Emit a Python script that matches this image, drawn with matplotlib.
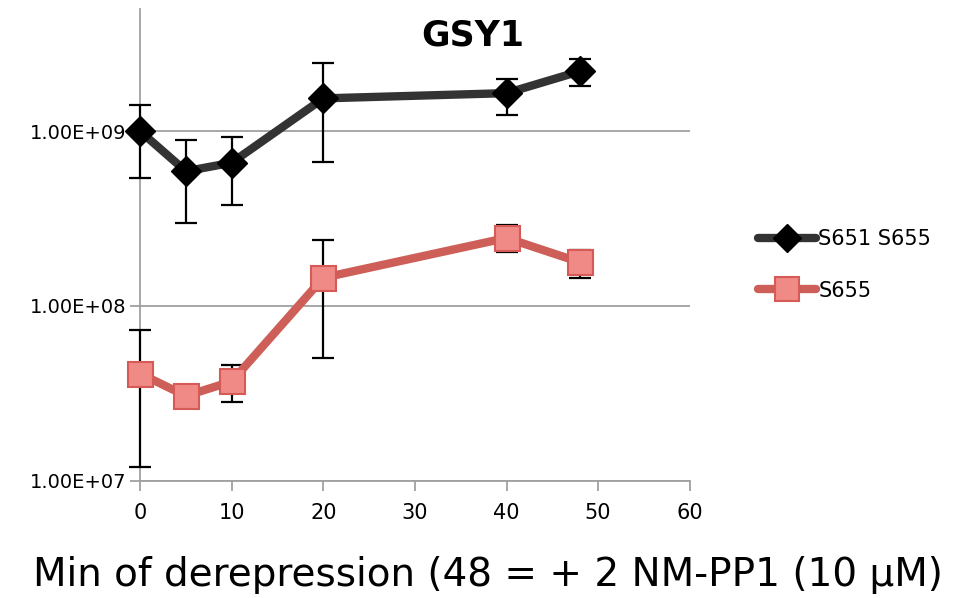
import matplotlib.pyplot as plt
from matplotlib.ticker import FixedLocator, NullLocator

plt.rcParams['font.family'] = ['DejaVu Sans']

# minutes of derepression
minutes = [0, 5, 10, 20, 40, 48]

# S651 S655 (black)
s651_s655 = [1.00e9, 0.59e9, 0.66e9, 1.54e9, 1.65e9, 2.20e9]
s651_s655_hi = [1.41e9, 0.89e9, 0.92e9, 2.45e9, 2.00e9, 2.58e9]
s651_s655_lo = [0.54e9, 0.30e9, 0.38e9, 0.67e9, 1.23e9, 1.81e9]

# S655 (red)
s655 = [4.1e7, 3.06e7, 3.7e7, 1.45e8, 2.45e8, 1.78e8]
s655_hi = [7.3e7, 3.3e7, 4.6e7, 2.38e8, 2.9e8, 2.1e8]
s655_lo = [1.2e7, 2.8e7, 2.83e7, 5.05e7, 2.03e8, 1.45e8]

x_ticks = [0, 10, 20, 30, 40, 50, 60]
y_ticks = [1e7, 1e8, 1e9]
y_labels = ['1.00E+07', '1.00E+08', '1.00E+09']

fig = plt.figure(figsize=(9.66, 5.98), dpi=100)
ax = fig.add_axes([0.145, 0.196, 0.569, 0.789])

def yerr(vals, hi, lo):
    return [[v - l for v, l in zip(vals, lo)], [h - v for v, h in zip(vals, hi)]]

for vals, hi, lo in [(s651_s655, s651_s655_hi, s651_s655_lo), (s655, s655_hi, s655_lo)]:
    eb = ax.errorbar(minutes, vals, yerr=yerr(vals, hi, lo), fmt='none', ecolor='black',
                     elinewidth=1.6, capsize=8, capthick=1.6, zorder=2.6)
    for art in eb.lines[1] + eb.lines[2]:
        art.set_clip_on(False)

ax.plot(minutes, s651_s655, color='#333333', lw=6, marker='D', markersize=15,
        markerfacecolor='black', markeredgecolor='black', zorder=3, clip_on=False,
        solid_capstyle='round', label='S651 S655')
ax.plot(minutes, s655, color='#CD5F58', lw=6, marker='s', markersize=18,
        markerfacecolor='#F08A86', markeredgecolor='#D65A55', markeredgewidth=1.5,
        zorder=3, clip_on=False, solid_capstyle='round', label='S655')

ax.set_yscale('log')
ax.set_ylim(1e7, 5e9)
ax.set_xlim(0, 60)
ax.yaxis.set_major_locator(FixedLocator(y_ticks))
ax.yaxis.set_minor_locator(NullLocator())
ax.set_yticklabels(y_labels, fontsize=14)
ax.set_xticks(x_ticks)
ax.set_xticklabels([str(t) for t in x_ticks], fontsize=15)
ax.grid(axis='y', color='#A0A0A0', lw=1.3)
ax.set_axisbelow(True)
for s in ['top', 'right']:
    ax.spines[s].set_visible(False)
for s in ['left', 'bottom']:
    ax.spines[s].set_color('#A0A0A0')
    ax.spines[s].set_linewidth(1.3)
ax.tick_params(axis='both', direction='out', color='#A0A0A0', width=1.3, length=7)
ax.tick_params(axis='x', pad=9)
ax.tick_params(axis='y', pad=3)

fig.text(0.489, 0.94, 'GSY1', fontsize=25, fontweight='bold', ha='center', va='center')
fig.text(0.505, 0.038, 'Min of derepression (48 = + 2 NM-PP1 (10 µM)', fontsize=28,
         ha='center', va='center')

fig.legend(loc='center left', bbox_to_anchor=(0.765, 0.557), frameon=False, fontsize=15,
           handlelength=2.8, handletextpad=0.1, labelspacing=1.5, markerscale=0.95)

fig.savefig('out.png', dpi=100)
